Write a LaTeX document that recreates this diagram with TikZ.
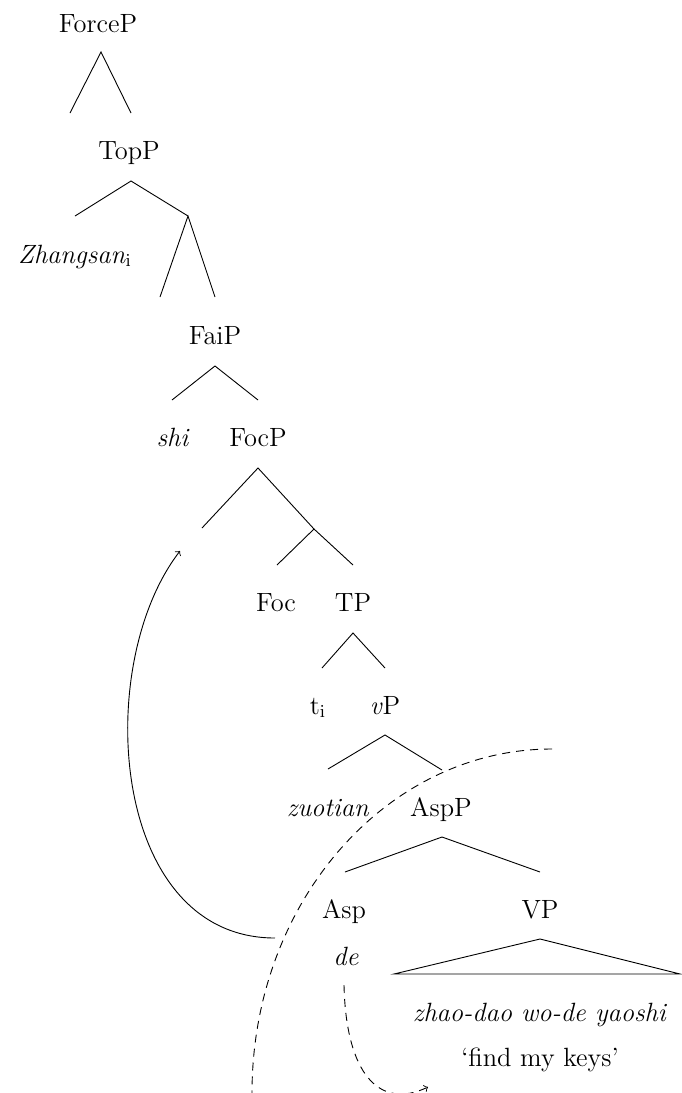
\documentclass[tikz,border=0pt]{standalone}
\begin{document}
\begin{tikzpicture}[x=0.5pt,y=-0.5pt,
  lbl/.style={anchor=base,inner sep=0pt,font=\fontsize{13.2}{16}\selectfont},
  edge/.style={line width=0.45pt},
  mv/.style={line width=0.45pt,->},
  dsh/.style={line width=0.45pt,dash pattern=on 4pt off 3pt}]
\useasboundingbox (0,0) rectangle (681,1093);
% labels
\node[lbl] (forcep) at (98,32) {ForceP};
\node[lbl] (topp) at (129,159) {TopP};
\node[lbl] (zhang) at (75,263) {\textit{Zhangsan}$_{\mathrm{i}}$};
\node[lbl] (faip) at (215,344) {FaiP};
\node[lbl] (shi) at (173,446) {\textit{shi}};
\node[lbl] (focp) at (258,446) {FocP};
\node[lbl] (foc) at (276,611) {Foc};
\node[lbl] (tp) at (353,611) {TP};
\node[lbl] (ti) at (318,714) {t$_{\mathrm{i}}$};
\node[lbl] (vp) at (385,714) {\textit{v}P};
\node[lbl] (zuo) at (328,816) {\textit{zuotian}};
\node[lbl] (aspp) at (441,816) {AspP};
\node[lbl] (asp) at (344,918) {Asp};
\node[lbl] (vP) at (540,918) {VP};
\node[lbl] (de) at (346,965) {\textit{de}};
\node[lbl] (zhao) at (540,1021) {\textit{zhao-dao wo-de yaoshi}};
\node[lbl] (keys) at (540,1066) {`find my keys'};
% branch points
\coordinate (a1) at (101,52);  \coordinate (a1l) at (70,113);  \coordinate (a1r) at (131,113);
\coordinate (a2) at (131,181); \coordinate (a2l) at (75,216);  \coordinate (a2r) at (188,216);
\coordinate (a3l) at (160,297); \coordinate (a3r) at (215,297);
\coordinate (a4) at (215,366); \coordinate (a4l) at (172,400); \coordinate (a4r) at (258,400);
\coordinate (a5) at (258,468); \coordinate (a5l) at (202,528); \coordinate (a5r) at (314,529);
\coordinate (a6l) at (277,565); \coordinate (a6r) at (353,565);
\coordinate (a7) at (353,633); \coordinate (a7l) at (322,668); \coordinate (a7r) at (385,668);
\coordinate (a8) at (385,735); \coordinate (a8l) at (328,769); \coordinate (a8r) at (442,770);
\coordinate (a9) at (442,837); \coordinate (a9l) at (345,872); \coordinate (a9r) at (540,872);
\coordinate (t1) at (540,939); \coordinate (t2) at (394,974); \coordinate (t3) at (680,974);
% tree edges
\draw[edge] (a1l) -- (a1) -- (a1r);
\draw[edge] (a2l) -- (a2) -- (a2r);
\draw[edge] (a3l) -- (a2r) -- (a3r);
\draw[edge] (a4l) -- (a4) -- (a4r);
\draw[edge] (a5l) -- (a5) -- (a5r);
\draw[edge] (a6l) -- (a5r) -- (a6r);
\draw[edge] (a7l) -- (a7) -- (a7r);
\draw[edge] (a8l) -- (a8) -- (a8r);
\draw[edge] (a9l) -- (a9) -- (a9r);
\draw[edge] (t2) -- (t1) -- (t3) -- cycle;
% movement arrow
\coordinate (ms) at (275,938); \coordinate (me) at (180,551);
\draw[mv] (ms) .. controls (110,938) and (92,665) .. (me);
% dashed arc
\coordinate (ds) at (552,749); \coordinate (de2) at (252,1093);
\draw[dsh] (ds) .. controls (386,749) and (252,903) .. (de2);
% dashed arrow from de
\coordinate (dds) at (344,985); \coordinate (dde) at (428,1087);
\draw[dsh,->] (dds) .. controls (346,1075) and (380,1110) .. (dde);
\end{tikzpicture}
\end{document}
